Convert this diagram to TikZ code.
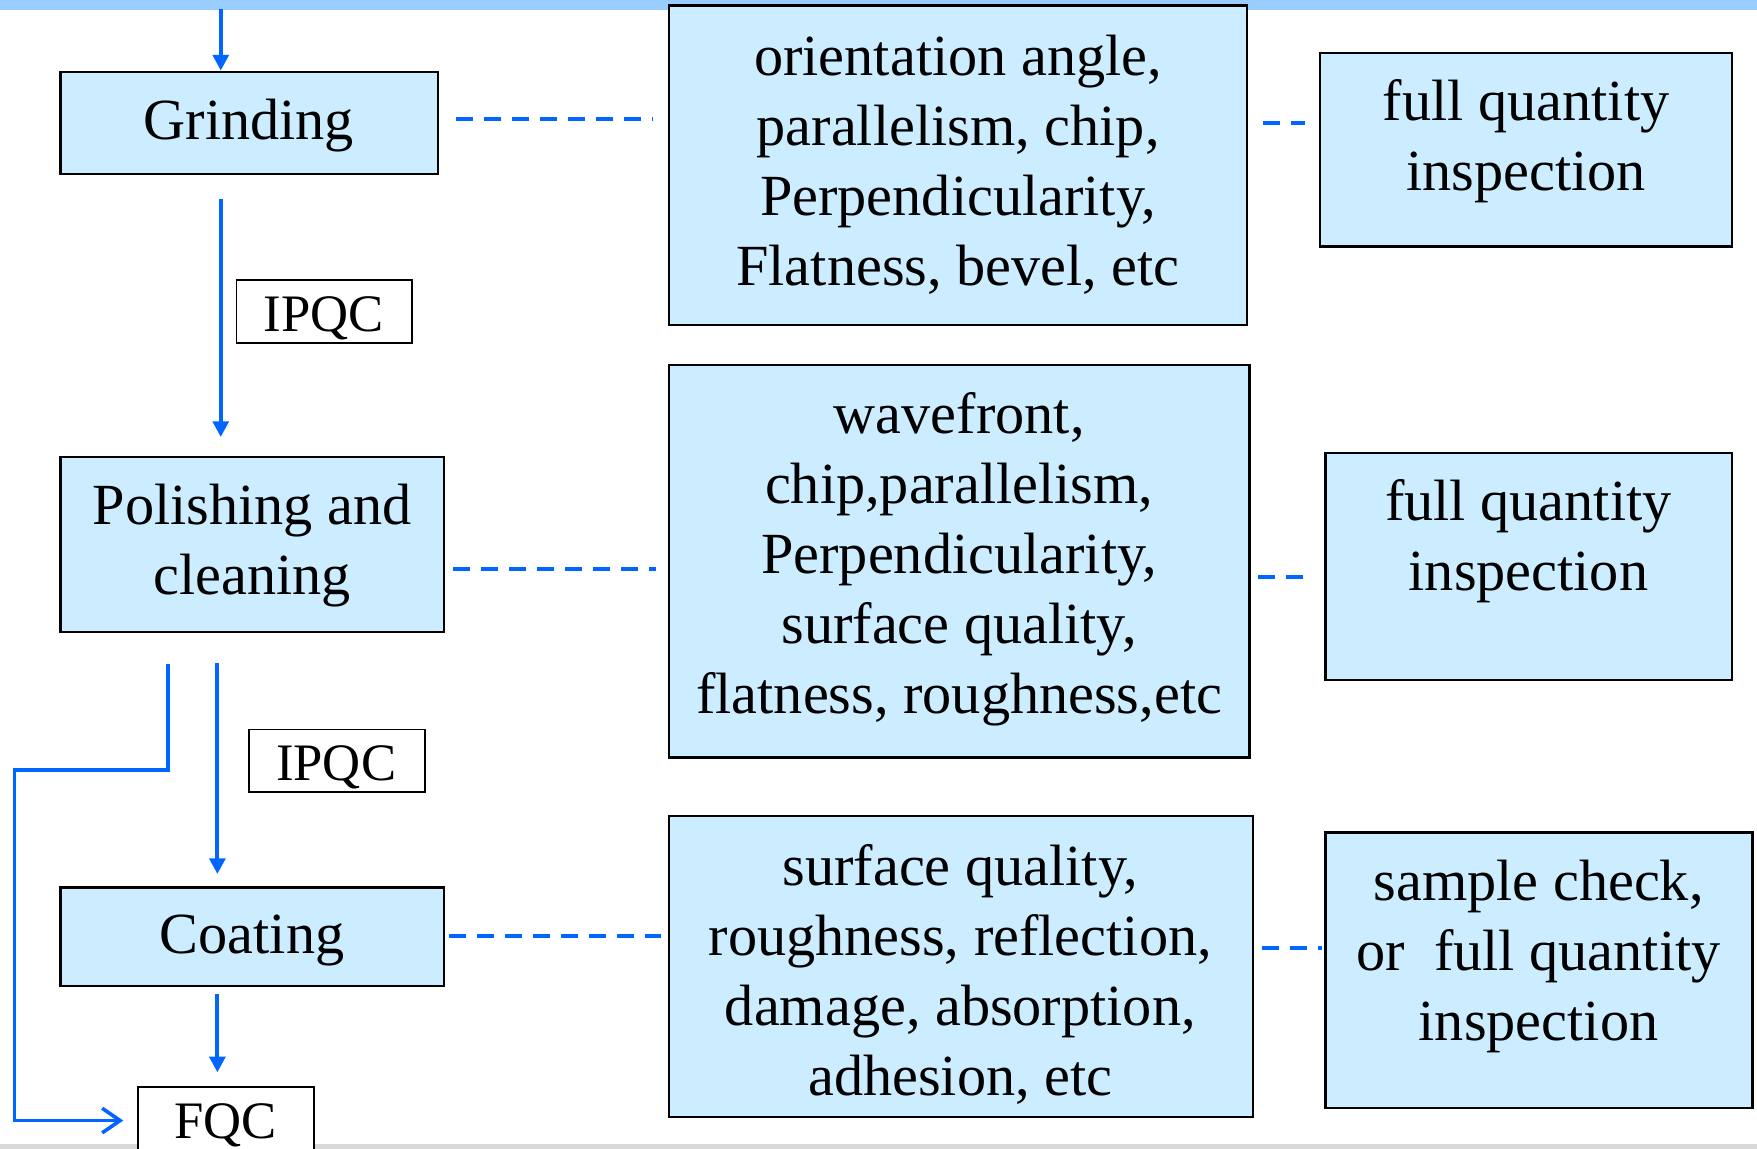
\documentclass[tikz,border=0pt]{standalone}
\usepackage{fontspec}
\setmainfont{Liberation Serif}
\usetikzlibrary{arrows.meta,calc}
\definecolor{flowblue}{HTML}{0066FF}
\definecolor{boxfill}{HTML}{CCECFF}
\definecolor{barblue}{HTML}{99CCFF}
\definecolor{bargray}{HTML}{D9D9D9}
\tikzset{
  procbox/.style={draw=black, line width=2pt, fill=boxfill, inner sep=0pt, outer sep=0pt},
  tagbox/.style={draw=black, line width=1.6pt, fill=white, inner sep=0pt, outer sep=0pt},
  bigtext/.style={font=\fontsize{52}{62.5}\selectfont, align=center, inner sep=0pt},
  tagtext/.style={font=\fontsize{47}{56}\selectfont, inner sep=0pt},
  flow/.style={draw=flowblue, line width=3.5pt, -{Triangle[length=14pt,width=14pt]}},
  bypass/.style={draw=flowblue, line width=3.2pt, -{Straight Barb[length=16pt,width=22pt]}},
  link/.style={draw=flowblue, line width=3.5pt, dash pattern=on 15pt off 10pt},
}
\begin{document}
\begin{tikzpicture}[x=1pt,y=-1pt]
\useasboundingbox (0,0) rectangle (1568,1025);
\clip (0,0) rectangle (1568,1025);

% page bands
\fill[barblue] (0,0) rectangle (1568,9);
\fill[bargray] (0,1021) rectangle (1568,1025);

% process steps
\node[procbox, minimum width=337pt, minimum height=91pt]  (grind)  at (222.5,109.5) {};
\node[procbox, minimum width=342pt, minimum height=156pt] (polish) at (225,486) {};
\node[procbox, minimum width=342pt, minimum height=88pt]  (coat)   at (225,836) {};
\node[tagbox,  minimum width=157pt, minimum height=56pt]  (ipqcA)  at (289.5,278) {};
\node[tagbox,  minimum width=157pt, minimum height=56pt]  (ipqcB)  at (300.5,679) {};
\node[tagbox,  minimum width=157pt, minimum height=60pt]  (fqc)    at (201.5,1000) {};

% inspection items
\node[procbox, minimum width=516pt, minimum height=285pt] (itemsA) at (855,147.5) {};
\node[procbox, minimum width=518pt, minimum height=350pt] (itemsB) at (856,501) {};
\node[procbox, minimum width=521pt, minimum height=269pt] (itemsC) at (857.5,862.5) {};

% inspection scope
\node[procbox, minimum width=368pt, minimum height=173pt] (scopeA) at (1362,133.5) {};
\node[procbox, minimum width=363pt, minimum height=203pt] (scopeB) at (1364.5,505.5) {};
\node[procbox, minimum width=381pt, minimum height=246pt] (scopeC) at (1373.5,866) {};

% labels
\node[bigtext] (grindT)  at (222,112) {Grinding};
\node[bigtext] (polishT) at (225,487) {Polishing and\\cleaning};
\node[bigtext] (coatT)   at (225,839) {Coating};
\node[tagtext] (ipqcAT)  at (289,284) {IPQC};
\node[tagtext] (ipqcBT)  at (300,685) {IPQC};
\node[tagtext] (fqcT)    at (201,1004) {FQC};

\node[bigtext] (itemsAT) at (855,147) {orientation angle,\\parallelism, chip,\\Perpendicularity,\\Flatness, bevel, etc};
\node[bigtext] (itemsBT) at (856,499) {wavefront,\\chip,parallelism,\\Perpendicularity,\\surface quality,\\flatness, roughness,etc};
\node[bigtext] (itemsCT) at (857,870) {surface quality,\\roughness, reflection,\\damage, absorption,\\adhesion, etc};

\node[bigtext] (scopeAT) at (1362,126) {full quantity\\inspection};
\node[bigtext] (scopeBT) at (1364,483) {full quantity\\inspection};
\node[bigtext] (scopeCT) at (1373,854) {sample check,\\or~ full quantity\\inspection};

% guide coordinates for the flow lines
\coordinate (feed) at (197,8);
\coordinate (colA) at (197,0);
\coordinate (colB) at (194,0);
\coordinate (turnA) at (150,687);
\coordinate (turnB) at (13,687);

% main flow
\draw[flow, shorten >=1pt] (feed) -- (feed |- grind.north);
\draw[flow, shorten <=23pt, shorten >=18pt] (grind.south -| colA) -- (polish.north -| colA);
\draw[flow, shorten <=28pt, shorten >=12pt] (polish.south -| colB) -- (coat.north -| colB);
\draw[flow, shorten <=7pt, shorten >=13pt] (coat.south -| colB) -- (fqc.north -| colB);

% direct route to final check
\draw[bypass, shorten <=29pt, shorten >=13pt]
  (polish.south -| turnA) -- (turnA) -- (turnB) -- (turnB |- fqc.west) -- (fqc.west);

% dashed links
\coordinate (rowA) at (0,106);
\coordinate (rowB) at (0,110);
\coordinate (rowC) at (0,508);
\coordinate (rowD) at (0,515);
\coordinate (rowE) at (0,835);
\coordinate (rowF) at (0,846);
\draw[link, shorten <=16pt, shorten >=14pt] (grind.east |- rowA) -- (itemsA.west |- rowA);
\draw[link, shorten <=14pt, shorten >=13pt] (itemsA.east |- rowB) -- (scopeA.west |- rowB);
\draw[link, shorten <=8pt, shorten >=12pt] (polish.east |- rowC) -- (itemsB.west |- rowC);
\draw[link, shorten <=8pt, shorten >=10pt] (itemsB.east |- rowD) -- (scopeB.west |- rowD);
\draw[link, shorten <=5pt, shorten >=7pt] (coat.east |- rowE) -- (itemsC.west |- rowE);
\draw[link, shorten <=8pt, shorten >=3pt] (itemsC.east |- rowF) -- (scopeC.west |- rowF);
\end{tikzpicture}
\end{document}
